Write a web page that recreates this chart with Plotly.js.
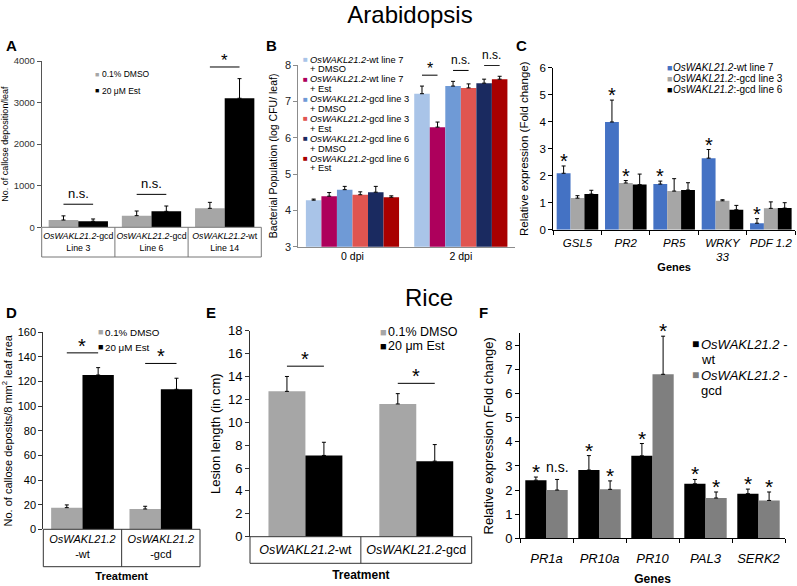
<!DOCTYPE html>
<html><head><meta charset="utf-8">
<script src="https://cdn.plot.ly/plotly-3.0.1.min.js"></script>
<style>html,body{margin:0;padding:0;background:#fff}#chart{width:797px;height:586px}</style>
</head><body><div id="chart"></div>
<script>
// ================= DATA =================
// A  (Arabidopsis callose deposition)
const aLabels = ['<i>OsWAKL21.2</i>-gcd<br>Line 3', '<i>OsWAKL21.2</i>-gcd<br>Line 6', '<i>OsWAKL21.2</i>-wt<br>Line 14'];
const aNames = ['0.1% DMSO', '20 μM Est'];
const aDmso = [175, 280, 456];
const aDmsoErr = [100, 112, 144];
const aEst = [144, 384, 3104];
const aEstErr = [56, 128, 472];
const aSig = ['n.s.', 'n.s.', '*'];

// B  (bacterial population)
const bLabels = ['0 dpi', '2 dpi'];
const bNames = ['OsWAKL21.2-wt line 7 + DMSO', 'OsWAKL21.2-wt line 7 + Est', 'OsWAKL21.2-gcd line 3 + DMSO',
                'OsWAKL21.2-gcd line 3 + Est', 'OsWAKL21.2-gcd line 6 + DMSO', 'OsWAKL21.2-gcd line 6 + Est'];
const bWt7Dmso = [4.28, 7.21];   const bWt7DmsoErr = [0.03, 0.21];
const bWt7Est = [4.39, 6.29];    const bWt7EstErr = [0.10, 0.14];
const bGcd3Dmso = [4.57, 7.42];  const bGcd3DmsoErr = [0.09, 0.13];
const bGcd3Est = [4.43, 7.37];   const bGcd3EstErr = [0.08, 0.11];
const bGcd6Dmso = [4.50, 7.50];  const bGcd6DmsoErr = [0.16, 0.11];
const bGcd6Est = [4.36, 7.61];   const bGcd6EstErr = [0.04, 0.08];
const bSigPairs = [[1, 0, 1, '*'], [1, 2, 3, 'n.s.'], [1, 4, 5, 'n.s.']]; // [category, series a, series b, label]

// C  (Arabidopsis gene expression)
const cLabels = ['<i>GSL5</i>', '<i>PR2</i>', '<i>PR5</i>', '<i>WRKY</i><br><i>33</i>', '<i>PDF 1.2</i>'];
const cNames = ['OsWAKL21.2-wt line 7', 'OsWAKL21.2:-gcd line 3', 'OsWAKL21.2:-gcd line 6'];
const cWt7 = [2.09, 3.99, 1.69, 2.65, 0.24];   const cWt7Err = [0.27, 0.81, 0.11, 0.32, 0.17];
const cGcd3 = [1.17, 1.73, 1.43, 1.07, 0.79];  const cGcd3Err = [0.09, 0.09, 0.46, 0.04, 0.24];
const cGcd6 = [1.32, 1.67, 1.47, 0.74, 0.80];  const cGcd6Err = [0.14, 0.39, 0.27, 0.16, 0.20];
const cWt7Sig = ['*', '*', '*', '*', '*'];
const cGcd3Sig = ['', '*', '', '', ''];
const cGcd6Sig = ['', '', '', '', ''];

// D  (rice callose deposits)
const dLabels = ['<i>OsWAKL21.2</i><br>-wt', '<i>OsWAKL21.2</i><br>-gcd'];
const dNames = ['0.1% DMSO', '20 μM Est'];
const dDmso = [17.6, 16.5];  const dDmsoErr = [2.2, 2.2];
const dEst = [125.3, 113.7]; const dEstErr = [6.0, 9.0];
const dSig = ['*', '*'];

// E  (lesion length)
const eLabels = ['<i>OsWAKL21.2</i>-wt', '<i>OsWAKL21.2</i>-gcd'];
const eNames = ['0.1% DMSO', '20 μm Est'];
const eDmso = [12.7, 11.6]; const eDmsoErr = [1.3, 0.9];
const eEst = [7.1, 6.6];    const eEstErr = [1.15, 1.45];
const eSig = ['*', '*'];

// F  (rice gene expression)
const fLabels = ['<i>PR1a</i>', '<i>PR10a</i>', '<i>PR10</i>', '<i>PAL3</i>', '<i>SERK2</i>'];
const fNames = ['OsWAKL21.2 - wt', 'OsWAKL21.2 - gcd'];
const fWt = [2.41, 2.83, 3.42, 2.26, 1.85];  const fWtErr = [0.13, 0.60, 0.51, 0.18, 0.19];
const fGcd = [2.00, 2.03, 6.80, 1.67, 1.57]; const fGcdErr = [0.44, 0.35, 1.58, 0.25, 0.35];
const fWtSig = ['*', '*', '*', '*', '*'];
const fGcdSig = ['n.s.', '*', '*', '*', '*'];

// ================= STYLE / LAYOUT =================
const W = 797, H = 586;
const FONT = '"Liberation Sans", Arial, Helvetica, sans-serif';
const NARROW = '"Liberation Sans Narrow", "Arial Narrow", "Liberation Sans", Arial, sans-serif';
const traces = [], shapes = [], annotations = [];
const layout = {
  width: W, height: H, margin: {l: 0, r: 0, t: 0, b: 0},
  paper_bgcolor: '#fff', plot_bgcolor: 'rgba(0,0,0,0)',
  barmode: 'overlay', showlegend: false, hovermode: false,
  font: {family: FONT, color: '#000'},
  title: {text: 'Arabidopsis', font: {family: NARROW, size: 24, color: '#000'},
          x: 410 / W, xanchor: 'center', y: 1 - 15 / H, yanchor: 'middle'},
  shapes, annotations
};

const sfx = k => (k === 1 ? '' : String(k));
const px = v => v / W, py = v => 1 - v / H;
function center(i, j, m, gap) { const w = (1 - gap) / m; return i - (1 - gap) / 2 + (j + 0.5) * w; }

function panel(p) {
  const k = p.k, n = p.labels.length, m = p.series.length, w = (1 - p.gap) / m;
  const [L, R, T, B] = p.box;
  p.series.forEach((s, j) => {
    traces.push({
      type: 'bar', name: s.name, x: p.labels.map((_, i) => i), y: s.y,
      width: w, offset: -(1 - p.gap) / 2 + j * w,
      marker: {color: s.color, line: {width: 0}},
      error_y: {type: 'data', symmetric: false, array: s.err, arrayminus: s.err.map(() => 0),
                color: '#000', thickness: 1, width: p.cap || 2},
      xaxis: 'x' + sfx(k), yaxis: 'y' + sfx(k)
    });
  });
  const xa = {
    domain: [px(L), px(R)], anchor: 'y' + sfx(k), range: [-0.5, n - 0.5],
    tickmode: 'array', tickvals: p.labels.map((_, i) => i), ticktext: p.labels, tickangle: 0,
    ticks: '', showline: !!p.xline, linecolor: p.lineColor, linewidth: 1,
    showgrid: false, zeroline: false, fixedrange: true,
    tickfont: {family: FONT, size: p.xfs, color: '#000'}, ticklabelstandoff: p.xso || 0
  };
  if (p.boundTicks) xa.minor = {tickmode: 'array', tickvals: Array.from({length: n + 1}, (_, i) => i - 0.5),
                                ticks: 'outside', ticklen: 4, tickcolor: p.lineColor, showgrid: false};
  if (p.xtitle) xa.title = {text: p.xtitle, font: {family: FONT, size: p.xtfs, color: '#000'}, standoff: p.xtso};
  const ya = {
    domain: [py(B), py(T)], anchor: 'x' + sfx(k), range: p.yrange, tick0: 0, dtick: p.dtick,
    ticks: 'outside', ticklen: 4, tickcolor: p.lineColor, showline: true, linecolor: p.lineColor, linewidth: 1,
    showgrid: false, zeroline: false, fixedrange: true,
    tickfont: {family: FONT, size: p.yfs, color: p.tickColor || '#000'},
    title: {text: p.ytitle, font: {family: FONT, size: p.ytfs, color: '#000'}, standoff: p.ytso}
  };
  layout['xaxis' + sfx(k)] = xa;
  layout['yaxis' + sfx(k)] = ya;
  // category table under axis
  if (p.tableBottom) {
    const c = p.tableColor;
    shapes.push({type: 'rect', xref: 'paper', yref: 'paper', x0: px(L), x1: px(R), y0: py(p.tableBottom), y1: py(B),
                 line: {color: c, width: 1}});
    for (let i = 1; i < n; i++) {
      const xp = L + (R - L) * i / n;
      shapes.push({type: 'line', xref: 'paper', yref: 'paper', x0: px(xp), x1: px(xp), y0: py(p.tableBottom), y1: py(B),
                   line: {color: c, width: 1}});
    }
  }
  // panel letter
  annotations.push({xref: 'paper', yref: 'paper', x: px(p.letterPos[0]), y: py(p.letterPos[1]), xanchor: 'left', yanchor: 'middle',
                    text: '<b>' + p.letter + '</b>', font: {family: FONT, size: 15, color: '#000'}, showarrow: false});
  // significance on pairs (line + label)
  (p.pairs || []).forEach(([i, ja, jb, lab]) => {
    const topA = p.series[ja].y[i] + p.series[ja].err[i], topB = p.series[jb].y[i] + p.series[jb].err[i];
    const lvl = Math.max(topA, topB) + p.pairOff * (p.yrange[1] - p.yrange[0]);
    const x0 = center(i, ja, m, p.gap), x1 = center(i, jb, m, p.gap);
    shapes.push({type: 'line', xref: 'x' + sfx(k), yref: 'y' + sfx(k), x0, x1, y0: lvl, y1: lvl, line: {color: '#000', width: 1}});
    const star = lab === '*';
    annotations.push({xref: 'x' + sfx(k), yref: 'y' + sfx(k), x: (x0 + x1) / 2, y: lvl, xanchor: 'center', yanchor: 'bottom',
                      text: lab, showarrow: false, yshift: star ? p.starShift : p.nsShift,
                      font: {family: FONT, size: star ? p.starFs : p.nsFs, color: '#000'}});
  });
  // significance on single bars
  p.series.forEach((s, j) => {
    (s.sig || []).forEach((lab, i) => {
      if (!lab) return;
      const star = lab === '*';
      annotations.push({xref: 'x' + sfx(k), yref: 'y' + sfx(k), x: center(i, j, m, p.gap), y: s.y[i] + s.err[i],
                        xanchor: 'center', yanchor: 'bottom', text: lab, showarrow: false,
                        yshift: star ? p.starShift : p.nsShift,
                        font: {family: FONT, size: star ? p.starFs : p.nsFs, color: '#000'}});
    });
  });
  // legend (square glyph + text lines)
  const lg = p.legend;
  let row = 0;
  p.series.forEach((s, j) => {
    const lines = lg.lines(s.name);
    annotations.push({xref: 'paper', yref: 'paper', x: px(lg.xs), y: py(lg.y0 + row * lg.dy), xanchor: 'left', yanchor: 'middle',
                      text: '■', font: {family: FONT, size: lg.sq, color: s.color}, showarrow: false});
    lines.forEach(t => {
      annotations.push({xref: 'paper', yref: 'paper', x: px(lg.xt), y: py(lg.y0 + row * lg.dy), xanchor: 'left', yanchor: 'middle',
                        text: t, font: {family: FONT, size: lg.fs, color: '#000'}, showarrow: false});
      row++;
    });
  });
}

const ital = s => s.replace('OsWAKL21.2', '<i>OsWAKL21.2</i>');
const GRAY = '#a6a6a6';

// ---- A
panel({k: 1, letter: 'A', letterPos: [4, 45], box: [41.7, 261.3, 61, 227.3], gap: 0.19, labels: aLabels,
  series: [{name: aNames[0], y: aDmso, err: aDmsoErr, color: GRAY}, {name: aNames[1], y: aEst, err: aEstErr, color: '#000'}],
  yrange: [0, 4000], dtick: 1000, yfs: 9.5, tickColor: '#333', lineColor: '#555', xfs: 8.8, xso: 2,
  ytitle: 'No. of callose deposition/leaf', ytfs: 9, ytso: 3,
  tableBottom: 257, tableColor: '#777',
  pairs: aSig.map((s, i) => [i, 0, 1, s]), pairOff: 0.07, starFs: 17, nsFs: 13, starShift: -5, nsShift: 1,
  legend: {xs: 93, xt: 99.5, y0: 74.3, dy: 16.7, sq: 7, fs: 8.5, lines: t => [t]}
});

// ---- B
const bColors = ['#a9c4e8', '#ad005c', '#6f9ad6', '#e05550', '#1a2a60', '#a80000'];
const bY = [bWt7Dmso, bWt7Est, bGcd3Dmso, bGcd3Est, bGcd6Dmso, bGcd6Est];
const bE = [bWt7DmsoErr, bWt7EstErr, bGcd3DmsoErr, bGcd3EstErr, bGcd6DmsoErr, bGcd6EstErr];
panel({k: 2, letter: 'B', letterPos: [264, 45], box: [298.3, 515, 65, 246.7], gap: 0.14, labels: bLabels,
  series: bNames.map((nm, j) => ({name: nm, y: bY[j], err: bE[j], color: bColors[j]})),
  yrange: [3, 8], dtick: 1, yfs: 11, tickColor: '#222', lineColor: '#8c8c8c', xline: true, xfs: 10.5, xso: 0,
  ytitle: 'Bacterial Population (log CFU/ leaf)', ytfs: 10.5, ytso: 5,
  pairs: bSigPairs, pairOff: 0.06, starFs: 16, nsFs: 12, starShift: -4, nsShift: 1,
  legend: {xs: 300.5, xt: 307.5, y0: 59.5, dy: 9.9, sq: 8, fs: 9.3, lines: t => { const q = t.split(' + '); return [ital(q[0]), '+ ' + q[1]]; }}
});

// ---- C
const cColors = ['#4472c4', GRAY, '#000'];
panel({k: 3, letter: 'C', letterPos: [514, 45], box: [553.3, 795, 67.7, 229.7], gap: 0.14, labels: cLabels,
  series: [{name: cNames[0], y: cWt7, err: cWt7Err, color: cColors[0], sig: cWt7Sig},
           {name: cNames[1], y: cGcd3, err: cGcd3Err, color: cColors[1], sig: cGcd3Sig},
           {name: cNames[2], y: cGcd6, err: cGcd6Err, color: cColors[2], sig: cGcd6Sig}],
  yrange: [0, 6], dtick: 1, yfs: 11.5, lineColor: '#000', xline: true, boundTicks: true, xfs: 11.5, xso: 2,
  xtitle: '<b>Genes</b>', xtfs: 11, xtso: 0,
  ytitle: 'Relative expression (Fold change)', ytfs: 11.5, ytso: 8,
  starFs: 20, nsFs: 12, starShift: -8, nsShift: 0,
  legend: {xs: 664.5, xt: 671, y0: 67.7, dy: 11, sq: 9, fs: 10, lines: t => [ital(t)]}
});

// ---- D
panel({k: 4, letter: 'D', letterPos: [4, 312], box: [43.3, 200, 332.3, 529.3], gap: 0.2, labels: dLabels,
  series: [{name: dNames[0], y: dDmso, err: dDmsoErr, color: GRAY}, {name: dNames[1], y: dEst, err: dEstErr, color: '#000'}],
  yrange: [0, 160], dtick: 20, yfs: 11, lineColor: '#333', xfs: 11, xso: 2,
  xtitle: '<b>Treatment</b>', xtfs: 11, xtso: 13,
  ytitle: 'No. of callose deposits/8 mm<sup>2</sup> leaf area', ytfs: 11, ytso: 10,
  tableBottom: 566.7, tableColor: '#333',
  pairs: dSig.map((s, i) => [i, 0, 1, s]), pairOff: 0.075, starFs: 20, nsFs: 12, starShift: -6, nsShift: 0,
  legend: {xs: 95.5, xt: 102.5, y0: 332.5, dy: 14.5, sq: 9, fs: 9.8, lines: t => [t]}
});

// ---- E
panel({k: 5, letter: 'E', letterPos: [204, 312], box: [250, 471.7, 330.7, 536.7], gap: 0.333, labels: eLabels,
  series: [{name: eNames[0], y: eDmso, err: eDmsoErr, color: GRAY}, {name: eNames[1], y: eEst, err: eEstErr, color: '#000'}],
  yrange: [0, 18], dtick: 2, yfs: 13, lineColor: '#333', xfs: 12.5, xso: 4,
  xtitle: '<b>Treatment</b>', xtfs: 12, xtso: 14,
  ytitle: 'Lesion length (in cm)', ytfs: 13, ytso: 4,
  tableBottom: 563.3, tableColor: '#333',
  pairs: eSig.map((s, i) => [i, 0, 1, s]), pairOff: 0.05, starFs: 20, nsFs: 12, starShift: -6, nsShift: 0,
  legend: {xs: 378, xt: 386, y0: 332, dy: 13.8, sq: 11, fs: 12.5, lines: t => [t]}
});

// ---- F
const fColors = ['#000', '#7f7f7f'];
panel({k: 6, letter: 'F', letterPos: [477, 312], box: [520, 785, 333.3, 538.3], gap: 0.2, labels: fLabels,
  series: [{name: fNames[0], y: fWt, err: fWtErr, color: fColors[0], sig: fWtSig},
           {name: fNames[1], y: fGcd, err: fGcdErr, color: fColors[1], sig: fGcdSig}],
  yrange: [0, 8.5], dtick: 1, yfs: 13, lineColor: '#000', xline: true, boundTicks: true, xfs: 13, xso: 8,
  xtitle: '<b>Genes</b>', xtfs: 12, xtso: 11,
  ytitle: 'Relative expression (Fold change)', ytfs: 13, ytso: 8,
  starFs: 21, nsFs: 14, starShift: -8, nsShift: 2,
  legend: {xs: 690, xt: 699, y0: 344, dy: 15.5, sq: 12, fs: 13, lines: t => { const q = t.split(' - '); return [ital(q[0]) + ' -', q[1]]; }}
});

// "Rice" section heading
annotations.push({xref: 'paper', yref: 'paper', x: px(429), y: py(297), xanchor: 'center', yanchor: 'middle',
                  text: 'Rice', font: {family: NARROW, size: 24, color: '#000'}, showarrow: false});

Plotly.newPlot('chart', traces, layout, {staticPlot: true, displayModeBar: false});
</script></body></html>
